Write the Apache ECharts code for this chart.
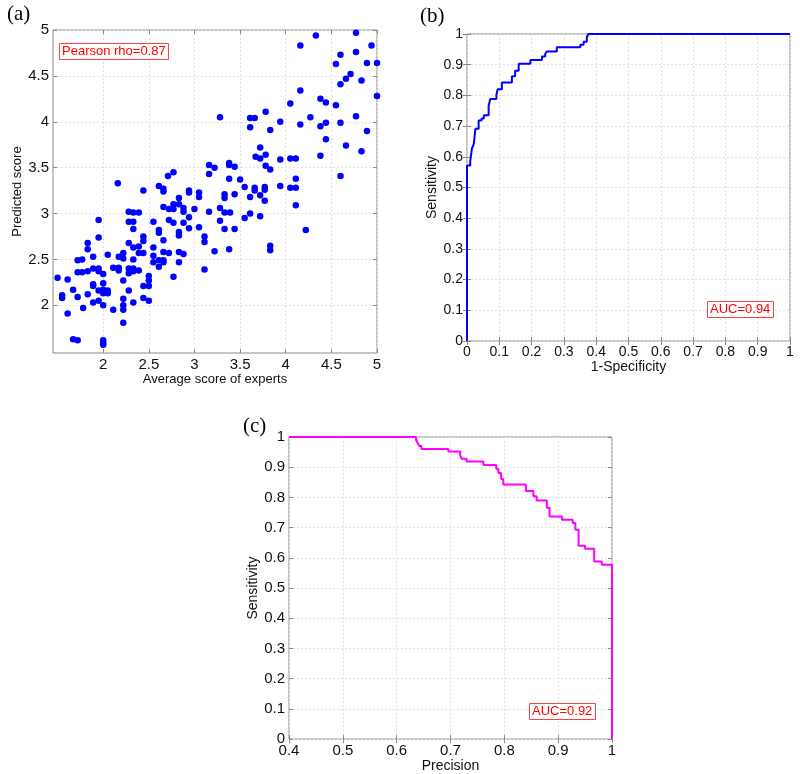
<!DOCTYPE html>
<html>
<head>
<meta charset="utf-8">
<script src="https://cdn.jsdelivr.net/npm/echarts@6/dist/echarts.min.js"></script>
<style>html,body{margin:0;padding:0;background:#fff;}#c{width:800px;height:774px;}</style>
</head>
<body>
<div id="c"></div>
<script>
// ---------- DATA ----------
// (a) average expert score vs predicted score
const scatterData = [
[2.71,3.41],[2.77,3.45],
[3.28,4.05],[3.61,4.04],[3.66,4.04],[3.61,3.94],[3.78,4.11],[3.83,3.91],[3.94,4.00],[4.05,4.20],[4.16,4.83],[4.33,4.94],[4.16,4.34],[4.27,4.05],[4.16,3.97],[4.38,4.25],[4.44,4.21],[4.55,4.18],[4.38,3.95],[4.44,3.99],[4.44,3.81],[4.38,3.63],[4.55,4.63],[4.60,4.73],[4.60,4.41],[4.66,4.47],[4.71,4.52],[4.77,4.97],[4.77,4.76],[4.83,4.45],[4.89,4.64],[4.94,4.83],[5.00,4.64],[5.00,4.28],[4.77,4.06],[4.60,3.99],[4.89,3.90],[4.66,3.74],[4.83,3.68],[4.60,3.41],[3.72,3.72],[3.67,3.62],[3.72,3.60],[3.78,3.64],[3.78,3.52],[3.83,3.48],[3.94,3.59],[4.05,3.60],[4.11,3.60],[3.16,3.53],[3.22,3.50],[3.16,3.43],[3.38,3.55],[3.38,3.53],[3.44,3.51],[3.38,3.38],[3.50,3.37],[4.11,3.38],
[3.05,3.23],[3.05,3.18],[3.33,3.21],[3.33,3.17],[3.44,3.21],[3.55,3.29],[3.61,3.18],[3.66,3.28],[3.66,3.25],[3.72,3.20],[3.77,3.29],[3.77,3.26],[3.77,3.14],[3.94,3.30],[4.05,3.28],[4.11,3.28],[4.11,3.09],[4.22,2.82],[3.00,3.05],[3.16,3.02],[3.28,3.06],[3.33,3.01],[3.39,3.01],[3.55,2.95],[3.61,3.00],[3.72,2.97],[3.28,2.92],[3.05,2.85],[3.33,2.83],[3.44,2.83],[3.11,2.75],[3.11,2.69],[3.22,2.59],[3.38,2.61],[3.83,2.65],[3.83,2.60],[3.11,2.39],
[2.16,3.33],[2.44,3.25],[2.61,3.30],[2.66,3.27],[2.66,3.24],[2.83,3.17],[2.94,3.25],[2.94,3.23],[2.66,3.07],[2.72,3.05],[2.77,3.10],[2.77,3.05],[2.83,3.10],[2.88,3.06],[2.88,3.02],[2.28,3.02],[2.28,2.91],[2.33,3.01],[2.33,2.91],[2.39,3.01],[2.55,2.91],[2.72,2.93],[2.77,2.90],[2.88,2.90],[2.94,2.96],[2.33,2.83],[2.61,2.82],[2.61,2.79],[2.83,2.80],[2.83,2.76],[2.94,2.84],[2.44,2.75],[2.44,2.70],[2.66,2.71],[1.95,2.93],[1.95,2.74],[1.83,2.68],[1.83,2.61],[2.28,2.68],[2.33,2.63],[2.39,2.64],[2.55,2.63],[2.83,2.58],[2.88,2.56],[2.72,2.57],[2.66,2.58],[2.44,2.57],[2.39,2.57],[2.22,2.57],[2.05,2.55],[2.17,2.53],[2.22,2.51],[2.33,2.50],[2.55,2.54],[2.55,2.47],[2.61,2.49],[2.66,2.49],[2.66,2.47],[2.83,2.47],[2.61,2.42],[2.77,2.31],[1.72,2.49],[1.77,2.50],[1.89,2.53],[1.72,2.36],[1.77,2.36],[1.83,2.37],[1.89,2.40],[1.95,2.40],[1.95,2.37],[2.00,2.34],[2.11,2.41],[2.17,2.41],[2.17,2.38],[2.28,2.40],[2.28,2.35],[2.33,2.40],[2.33,2.37],[2.39,2.38],[2.22,2.27],[2.28,2.16],[2.50,2.32],[2.50,2.27],[2.44,2.21],[2.50,2.21],[2.44,2.08],[2.50,2.05],[2.33,2.03],[2.22,2.07],[2.22,2.00],[2.22,1.95],[2.22,1.81],[2.11,1.95],[2.00,2.00],[1.95,2.05],[1.89,2.03],[1.78,1.97],[1.50,2.30],[1.61,2.28],[1.55,2.11],[1.55,2.08],[1.67,2.17],[1.61,1.91],[1.72,2.09],[1.83,2.12],[1.89,2.23],[1.89,2.21],[1.95,2.16],[2.00,2.24],[2.00,2.17],[2.00,2.13],[2.05,2.16],[2.05,2.13],[1.67,1.63],[1.72,1.62],[2.00,1.62],[2.00,1.59],[2.00,1.57]
];
const scatterTicks = [2, 2.5, 3, 3.5, 4, 4.5, 5];

// (b) ROC curve: 1-specificity / sensitivity
const rocFPR = [0, 0, 0.010, 0.015, 0.021, 0.026, 0.036, 0.045, 0.052, 0.067, 0.072, 0.091, 0.095, 0.108, 0.139, 0.149, 0.160, 0.196, 0.232, 0.242, 0.247, 0.278, 0.351, 0.361, 0.371, 0.376, 1];
const rocTPR = [0, 0.572, 0.585, 0.626, 0.642, 0.691, 0.718, 0.725, 0.735, 0.766, 0.788, 0.802, 0.820, 0.842, 0.862, 0.880, 0.903, 0.915, 0.927, 0.935, 0.943, 0.957, 0.965, 0.975, 0.990, 1.0, 1.0];

// (c) precision / sensitivity
const prPrecision = [0.4, 0.636, 0.639, 0.642, 0.646, 0.696, 0.718, 0.721, 0.730, 0.761, 0.785, 0.789, 0.794, 0.798, 0.840, 0.854, 0.860, 0.879, 0.884, 0.907, 0.927, 0.932, 0.938, 0.950, 0.967, 0.981, 1.0];
const prSensitivity = [1, 0.99, 0.98, 0.97, 0.96, 0.952, 0.94, 0.928, 0.919, 0.907, 0.894, 0.881, 0.861, 0.843, 0.821, 0.804, 0.790, 0.766, 0.737, 0.726, 0.715, 0.693, 0.640, 0.630, 0.588, 0.577, 0];

const labelTexts = { a: '(a)', b: '(b)', c: '(c)', pearson: 'Pearson rho=0.87', aucRoc: 'AUC=0.94', aucPr: 'AUC=0.92' };

// ---------- CHART ----------
const FONT = 'Liberation Sans, Arial, Helvetica, sans-serif';
const AX = '#8a8a8a';
const GRIDLINE = { show: true, lineStyle: { color: '#e2e2e2', width: 1, type: [2, 2] } };

function mainAxis(dim, gi, o) {
  const ax = {
    type: 'value', gridIndex: gi, min: o.min, max: o.max,
    position: dim === 'x' ? 'bottom' : 'left',
    name: o.name, nameLocation: 'middle', nameGap: o.nameGap,
    nameTextStyle: { fontFamily: FONT, fontSize: o.nameSize, color: '#111' },
    axisLine: { show: false },
    axisTick: { show: true, inside: true, length: 4, lineStyle: { color: AX } },
    axisLabel: { fontFamily: FONT, fontSize: o.fontSize, color: '#111', margin: o.margin || 4 },
    splitLine: GRIDLINE
  };
  if (o.interval) ax.interval = o.interval;
  if (o.custom) {
    ax.axisTick.customValues = o.custom;
    ax.axisLabel.customValues = o.custom;
  }
  return ax;
}
function oppAxis(dim, gi, o) {
  const ax = {
    type: 'value', gridIndex: gi, min: o.min, max: o.max,
    position: dim === 'x' ? 'top' : 'right',
    axisLine: { show: false },
    axisTick: { show: true, inside: true, length: 4, lineStyle: { color: AX } },
    axisLabel: { show: false },
    splitLine: { show: false }
  };
  if (o.interval) ax.interval = o.interval;
  if (o.custom) ax.axisTick.customValues = o.custom;
  return ax;
}

const ax_a_x = { min: 1.45, max: 5, custom: scatterTicks, fontSize: 15, name: 'Average score of experts', nameGap: 19, nameSize: 13 };
const ax_a_y = { min: 1.48, max: 5, custom: scatterTicks, fontSize: 15, name: 'Predicted score', nameGap: 24, nameSize: 13 };
const ax_b_x = { min: 0, max: 1, interval: 0.1, fontSize: 14, name: '1-Specificity', nameGap: 15, nameSize: 14 };
const ax_b_y = { min: 0, max: 1, interval: 0.1, fontSize: 14, name: 'Sensitivity', nameGap: 24, nameSize: 14 };
const ax_c_x = { min: 0.4, max: 1, interval: 0.1, fontSize: 15, name: 'Precision', nameGap: 15, nameSize: 14 };
const ax_c_y = { min: 0, max: 1, interval: 0.1, fontSize: 15, name: 'Sensitivity', nameGap: 24, nameSize: 14 };

const gridStyle = { show: true, borderColor: AX, borderWidth: 1, backgroundColor: '#fff' };

function boxTitle(text, left, top) {
  return { text: text, left: left, top: top, padding: [2, 3],
    borderColor: '#ff4040', borderWidth: 1, backgroundColor: '#fff',
    textStyle: { fontFamily: FONT, fontSize: 13, fontWeight: 'normal', color: '#ff0000' } };
}
function panelTitle(text, left, top) {
  return { text: text, left: left, top: top, padding: 0,
    textStyle: { fontFamily: 'Liberation Serif, Times New Roman, serif', fontSize: 21, fontWeight: 'normal', color: '#000' } };
}

const option = {
  animation: false,
  backgroundColor: '#fff',
  title: [
    panelTitle(labelTexts.a, 7, 4),
    panelTitle(labelTexts.b, 420, 6),
    panelTitle(labelTexts.c, 243, 416),
    boxTitle(labelTexts.pearson, 59, 43),
    boxTitle(labelTexts.aucRoc, 707, 301),
    boxTitle(labelTexts.aucPr, 529, 703)
  ],
  grid: [
    Object.assign({ left: 53, top: 30, width: 324, height: 323 }, gridStyle),
    Object.assign({ left: 467, top: 34, width: 323, height: 307 }, gridStyle),
    Object.assign({ left: 289, top: 437, width: 323, height: 305 }, gridStyle)
  ],
  xAxis: [
    mainAxis('x', 0, ax_a_x), oppAxis('x', 0, ax_a_x),
    mainAxis('x', 1, ax_b_x), oppAxis('x', 1, ax_b_x),
    mainAxis('x', 2, ax_c_x), oppAxis('x', 2, ax_c_x)
  ],
  yAxis: [
    mainAxis('y', 0, ax_a_y), oppAxis('y', 0, ax_a_y),
    mainAxis('y', 1, ax_b_y), oppAxis('y', 1, ax_b_y),
    mainAxis('y', 2, ax_c_y), oppAxis('y', 2, ax_c_y)
  ],
  series: [
    { type: 'scatter', xAxisIndex: 0, yAxisIndex: 0, data: scatterData,
      symbol: 'circle', symbolSize: 6.5, itemStyle: { color: '#0000ff', opacity: 1 } },
    { type: 'line', xAxisIndex: 2, yAxisIndex: 2, step: 'end', symbol: 'none', clip: false,
      data: rocFPR.map((v, i) => [v, rocTPR[i]]),
      lineStyle: { color: '#0000ff', width: 2 } },
    { type: 'line', xAxisIndex: 4, yAxisIndex: 4, step: 'end', symbol: 'none', clip: false,
      data: prPrecision.map((v, i) => [v, prSensitivity[i]]),
      lineStyle: { color: '#ff00ff', width: 2 } }
  ]
};

const chart = echarts.init(document.getElementById('c'), null, { renderer: 'canvas' });
chart.setOption(option);
</script>
</body>
</html>
